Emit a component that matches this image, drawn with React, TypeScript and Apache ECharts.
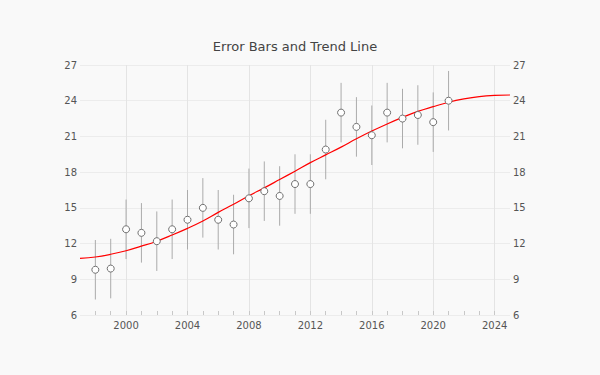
import React, { useEffect, useRef } from "react";
import * as echarts from "echarts";

const years = [1998, 1999, 2000, 2001, 2002, 2003, 2004, 2005, 2006, 2007, 2008, 2009, 2010, 2011, 2012, 2013, 2014, 2015, 2016, 2017, 2018, 2019, 2020, 2021];
const values = [9.8, 9.9, 13.2, 12.9, 12.2, 13.2, 14.0, 15.0, 14.0, 13.6, 15.8, 16.4, 16.0, 17.0, 17.0, 19.9, 23.0, 21.8, 21.1, 23.0, 22.5, 22.8, 22.2, 24.0];
const errors = [2.5, 2.5, 2.5, 2.5, 2.5, 2.5, 2.5, 2.5, 2.5, 2.5, 2.5, 2.5, 2.5, 2.5, 2.5, 2.5, 2.5, 2.5, 2.5, 2.5, 2.5, 2.5, 2.5, 2.5];

const trendYears = [1997, 1998, 1999, 2000, 2001, 2002, 2003, 2004, 2005, 2006, 2007, 2008, 2009, 2010, 2011, 2012, 2013, 2014, 2015, 2016, 2017, 2018, 2019, 2020, 2021, 2022, 2023, 2024, 2025];
const trendValues = [10.76, 10.87, 11.1, 11.4, 11.78, 12.2, 12.72, 13.28, 13.9, 14.62, 15.3, 16.02, 16.68, 17.38, 18.08, 18.8, 19.45, 20.1, 20.8, 21.45, 22.05, 22.6, 23.1, 23.5, 23.87, 24.15, 24.35, 24.45, 24.48];

const xGridYears = [2000, 2004, 2008, 2012, 2016, 2020, 2024];
const yTicks = [6, 9, 12, 15, 18, 21, 24, 27];

const FONT = "DejaVu Sans";

export default function App() {
  const ref = useRef<HTMLDivElement>(null);
  useEffect(() => {
    if (!ref.current) return;
    const chart = echarts.init(ref.current, undefined, { renderer: "svg" });
    const yMin = yTicks[0];
    const yMax = yTicks[yTicks.length - 1];
    const yInterval = yTicks[1] - yTicks[0];
    const yAxisBase = {
      type: "value",
      min: yMin,
      max: yMax,
      interval: yInterval,
      axisLine: { show: false },
      axisTick: { show: false },
      axisLabel: { color: "#555", fontFamily: FONT, fontSize: 10, margin: 3 },
    };
    chart.setOption({
      animation: false,
      backgroundColor: "#f9f9f9",
      title: {
        text: "Error Bars and Trend Line",
        left: 295,
        textAlign: "center",
        top: 40,
        padding: 0,
        textStyle: { color: "#444", fontFamily: FONT, fontSize: 13, fontWeight: "normal" },
      },
      grid: { left: 80, right: 90, top: 65, bottom: 60, containLabel: false },
      xAxis: {
        type: "value",
        min: trendYears[0],
        max: trendYears[trendYears.length - 1],
        interval: 1,
        axisLine: { show: false },
        axisTick: { show: true, inside: true, length: 4, lineStyle: { color: "#c8c8c8" } },
        splitLine: { show: false },
        axisLabel: {
          color: "#555",
          fontFamily: FONT,
          fontSize: 10,
          margin: 5,
          showMinLabel: false,
          showMaxLabel: false,
          formatter: (v: number) => (xGridYears.includes(v) ? String(v) : ""),
        },
      },
      yAxis: [
        { ...yAxisBase, position: "left", splitLine: { show: true, lineStyle: { color: "#ececec" } } },
        { ...yAxisBase, position: "right", splitLine: { show: false } },
      ],
      series: [
        {
          type: "custom",
          z: 2,
          data: years.map((y, i) => [y, values[i] - errors[i], values[i] + errors[i]]),
          encode: { x: 0, y: [1, 2] },
          renderItem: (params: any, api: any) => {
            const x = api.value(0);
            const p1 = api.coord([x, api.value(1)]);
            const p2 = api.coord([x, api.value(2)]);
            return {
              type: "line",
              shape: { x1: p1[0], y1: p1[1], x2: p2[0], y2: p2[1] },
              style: { stroke: "#ababab", lineWidth: 1 },
            };
          },
          markLine: {
            silent: true,
            symbol: ["none", "none"],
            label: { show: false },
            lineStyle: { color: "#e4e4e4", width: 1, type: "solid" },
            data: xGridYears.map((x) => ({ xAxis: x })),
            z: 0,
          },
        },
        {
          type: "line",
          z: 3,
          data: trendYears.map((y, i) => [y, trendValues[i]]),
          smooth: 0.4,
          showSymbol: false,
          lineStyle: { color: "#ff0000", width: 1.2 },
        },
        {
          type: "scatter",
          z: 4,
          data: years.map((y, i) => [y, values[i]]),
          symbol: "circle",
          symbolSize: 7,
          itemStyle: { color: "#ffffff", borderColor: "#707070", borderWidth: 1, opacity: 1 },
        },
      ],
    });
    return () => chart.dispose();
  }, []);
  return <div ref={ref} style={{ width: 600, height: 375, position: "absolute", left: 0, top: 0 }} />;
}
